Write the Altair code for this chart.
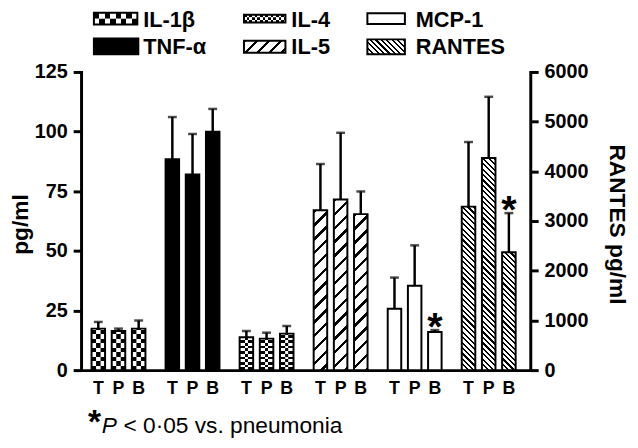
import math
import altair as alt
import pandas as pd

# ---------------- data ----------------
cytokines = ["IL-1β", "TNF-α", "IL-4", "IL-5", "MCP-1", "RANTES"]
conditions = ["T", "P", "B"]

il1b_mean = [17.4, 16.4, 17.4]
il1b_upper = [20.2, 17.4, 20.8]
tnf_mean = [88.4, 82.0, 99.9]
tnf_upper = [106.1, 99.0, 109.5]
il4_mean = [13.8, 13.2, 15.3]
il4_upper = [16.4, 15.7, 18.5]
il5_mean = [67.0, 71.5, 65.4]
il5_upper = [86.4, 99.5, 74.9]
mcp1_mean = [25.7, 35.4, 16.0]
mcp1_upper = [38.8, 52.3, 16.8]
rantes_mean = [3290, 4270, 2370]
rantes_upper = [4590, 5500, 3160]

significant = [("MCP-1", "B"), ("RANTES", "B")]

left_ticks = [0, 25, 50, 75, 100, 125]
right_ticks = [0, 1000, 2000, 3000, 4000, 5000, 6000]

legend_rows = [["IL-1β", "IL-4", "MCP-1"], ["TNF-α", "IL-5", "RANTES"]]
y_title_left = "pg/ml"
y_title_right = "RANTES pg/ml"
footnote_star = "*"
footnote_p = "P"
footnote_rest = "< 0·05 vs. pneumonia"

# ---------------- layout / style ----------------
FONT = "Liberation Sans"
W, H = 455, 302
LEFT_MAX, RIGHT_MAX = 125, 6000
G_PI, G_PO, G_ALIGN = 0.245, 0.156, 0.41
O_PI, O_PO = 0.33, 0.05
g_step = W / (len(cytokines) - G_PI + 2 * G_PO)
g_bw = g_step * (1 - G_PI)
o_step = g_bw / (len(conditions) - O_PI + 2 * O_PO)
BW = o_step * (1 - O_PI)

patterns = {
    "IL-1β": {"kind": "checker", "n": 3},
    "TNF-α": {"kind": "solid", "color": "black"},
    "IL-4": {"kind": "checker", "n": 5},
    "IL-5": {"kind": "fwd", "period": 14.0, "frac": 0.25},
    "MCP-1": {"kind": "solid", "color": "white"},
    "RANTES": {"kind": "back", "period": 5.5, "frac": 0.4},
}

# legend swatch boxes (x, x2, y, y2) relative to plot origin
legend_boxes = {
    "IL-1β": (13, 57, -60, -48),
    "IL-4": (165, 207, -58, -50),
    "MCP-1": (290, 328, -59.5, -48.5),
    "TNF-α": (13, 58, -34, -18),
    "IL-5": (165, 207, -31.5, -19.5),
    "RANTES": (290, 328, -33, -18),
}
legend_text_x = [63, 213, 339]
legend_text_y = [-52.5, -25.5]


# ---------------- gradient helpers ----------------
def stripe_stops(total, period, frac, phase=0.0):
    stops = []
    k = math.floor(-phase / period) - 1
    while True:
        a = phase + k * period
        if a >= total:
            break
        b = a + frac * period
        c = a + period
        for s, e, col in ((a, b, "black"), (b, c, "white")):
            s2, e2 = max(0.0, s), min(total, e)
            if e2 > s2:
                stops.append({"offset": round(s2 / total, 5), "color": col})
                stops.append({"offset": round(e2 / total, 5), "color": col})
        k += 1
    return stops


def grad(x1, y1, x2, y2, stops):
    return {"gradient": "linear", "x1": x1, "y1": y1, "x2": x2, "y2": y2, "stops": stops}


def rows_gradient(h, period, frac, phase):
    return grad(0, 1, 0, 0, stripe_stops(h, period, frac, phase))


def cols_gradient(w, period, frac, phase):
    return grad(0, 0, 1, 0, stripe_stops(w, period, frac, phase))


def diag_gradient(w, h, period, frac, forward):
    s = (w + h) / (w * w + h * h)
    if forward:
        return grad(0, 0, s * w, s * h, stripe_stops(w + h, period, frac))
    return grad(0, 1, s * w, 1 - s * h, stripe_stops(w + h, period, frac))


# ---------------- table ----------------
means = [il1b_mean, tnf_mean, il4_mean, il5_mean, mcp1_mean, rantes_mean]
uppers = [il1b_upper, tnf_upper, il4_upper, il5_upper, mcp1_upper, rantes_upper]
rows = []
for gi, name in enumerate(cytokines):
    for ci, c in enumerate(conditions):
        rows.append({
            "cytokine": name, "cond": c,
            "mean": means[gi][ci], "upper": uppers[gi][ci],
            "key": f"{gi}{c}", "sig": (name, c) in significant,
        })
df = pd.DataFrame(rows)
df_left = df[df.cytokine != "RANTES"].reset_index(drop=True)
df_right = df[df.cytokine == "RANTES"].reset_index(drop=True)
one = pd.DataFrame({"d": [0]})

x_axis = alt.Axis(labels=False, ticks=False, title="", grid=False,
                  domainColor="black", domainWidth=3, domainCap="square")
X = alt.X("cytokine:N", scale=alt.Scale(domain=cytokines, paddingInner=G_PI,
                                         paddingOuter=G_PO, align=G_ALIGN), axis=x_axis)
XO = alt.XOffset("cond:N", scale=alt.Scale(domain=conditions, paddingInner=O_PI, paddingOuter=O_PO))


def make_axis(orient, values, title, angle, tx):
    return alt.Axis(orient=orient, values=values, title=title, grid=False, format="d",
                    domainColor="black", domainWidth=3, domainCap="square",
                    tickColor="black", tickWidth=3, tickSize=8,
                    labelFont=FONT, labelFontSize=20, labelFontWeight="bold",
                    labelColor="black", labelPadding=6,
                    titleFont=FONT, titleFontSize=23, titleFontWeight="bold",
                    titleColor="black", titleAngle=angle, titleX=tx, titleY=154,
                    titleAlign="center", titleBaseline="middle")


def group_layers(sub, ymax, axis):
    yscale = alt.Scale(domain=[0, ymax], nice=False, zero=True)
    Ym = alt.Y("mean:Q", scale=yscale, axis=axis)
    Yu = alt.Y("upper:Q", scale=yscale, axis=axis)
    layers = []
    for _, r in sub.iterrows():
        pat = patterns[r["cytokine"]]
        h = r["mean"] / ymax * H
        base = alt.Chart(sub).transform_filter(alt.datum.key == r["key"])
        kind = pat["kind"]
        if kind == "solid":
            fill = pat["color"]
        elif kind == "checker":
            sq = BW / pat["n"]
            fill = rows_gradient(h, 2 * sq, 0.5, 0.0)
        else:
            fill = diag_gradient(BW, h, pat["period"], pat["frac"], kind == "fwd")
        layers.append(base.mark_bar(fill=fill).encode(x=X, xOffset=XO, y=Ym))
        if kind == "checker":
            n = pat["n"]
            sq = BW / n
            for j in range(1, n, 2):
                off = (j - (n - 1) / 2) * sq
                layers.append(
                    base.mark_bar(fill=rows_gradient(h, 2 * sq, 0.5, sq), width=sq, xOffset=off)
                    .encode(x=X, xOffset=XO, y=Ym))
    layers.append(alt.Chart(sub).mark_bar(fill="white", fillOpacity=0, stroke="black",
                                          strokeWidth=2, strokeJoin="miter")
                  .encode(x=X, xOffset=XO, y=Ym))
    layers.append(alt.Chart(sub).mark_rule(color="black", strokeWidth=2.5)
                  .encode(x=X, xOffset=XO, y=Ym, y2="upper:Q"))
    layers.append(alt.Chart(sub).mark_tick(color="black", orient="horizontal", size=9, thickness=2.5)
                  .encode(x=X, xOffset=XO, y=Yu))
    layers.append(alt.Chart(sub).transform_filter(alt.datum.sig)
                  .mark_text(text="*", font=FONT, fontSize=40, fontWeight="bold",
                             baseline="alphabetic", dy=10, color="black")
                  .encode(x=X, xOffset=XO, y=Yu))
    return layers


left = group_layers(df_left, LEFT_MAX, make_axis("left", left_ticks, y_title_left, 270, -61))
right = group_layers(df_right, RIGHT_MAX, make_axis("right", right_ticks, y_title_right, 90, 87))

# condition labels under each bar
left.append(alt.Chart(df).mark_text(font=FONT, fontSize=18, fontWeight="bold", baseline="middle",
                                    color="black")
            .encode(x=X, xOffset=XO, text="cond:N", y=alt.value(H + 19)))

# legend
for ri, row in enumerate(legend_rows):
    for ci, name in enumerate(row):
        x0, x1, y0, y1 = legend_boxes[name]
        w, h = x1 - x0, y1 - y0
        pat = patterns[name]
        kind = pat["kind"]
        if kind == "checker":
            n_rows = 2 if pat["n"] == 3 else 3
            rh = h / n_rows
            sq = 5.5 if pat["n"] == 3 else 2.7
            for k in range(n_rows):
                left.append(alt.Chart(one).mark_rect(fill=cols_gradient(w, 2 * sq, 0.5, k * sq))
                            .encode(x=alt.value(x0), x2=alt.value(x1),
                                    y=alt.value(y0 + k * rh), y2=alt.value(y0 + (k + 1) * rh)))
        else:
            if kind == "solid":
                fill = pat["color"]
            else:
                fill = diag_gradient(w, h, 12.0 if kind == "fwd" else pat["period"],
                                     pat["frac"], kind == "fwd")
            left.append(alt.Chart(one).mark_rect(fill=fill)
                        .encode(x=alt.value(x0), x2=alt.value(x1), y=alt.value(y0), y2=alt.value(y1)))
        left.append(alt.Chart(one).mark_rect(fill="white", fillOpacity=0, stroke="black", strokeWidth=2)
                    .encode(x=alt.value(x0), x2=alt.value(x1), y=alt.value(y0), y2=alt.value(y1)))
        left.append(alt.Chart(one).mark_text(text=name, font=FONT, fontSize=22, fontWeight="bold",
                                             align="left", baseline="middle", color="black")
                    .encode(x=alt.value(legend_text_x[ci]), y=alt.value(legend_text_y[ri])))

# footnote
left.append(alt.Chart(one).mark_text(text=footnote_star, font=FONT, fontSize=34, fontWeight="bold",
                                     align="left", baseline="alphabetic", color="black")
            .encode(x=alt.value(7), y=alt.value(366)))
left.append(alt.Chart(one).mark_text(text=footnote_p, font=FONT, fontSize=23, fontStyle="italic",
                                     align="left", baseline="alphabetic", color="black")
            .encode(x=alt.value(21), y=alt.value(366)))
left.append(alt.Chart(one).mark_text(text=footnote_rest, font=FONT, fontSize=23,
                                     align="left", baseline="alphabetic", color="black")
            .encode(x=alt.value(43), y=alt.value(366)))

chart = (
    alt.layer(alt.layer(*left), alt.layer(*right))
    .resolve_scale(y="independent")
    .properties(width=W, height=H,
                padding={"left": 74, "top": 62, "right": 101, "bottom": 68},
                autosize=alt.AutoSizeParams(type="none"))
    .configure_view(strokeWidth=0)
)

chart.save("out.html", embed_options={"renderer": "svg", "actions": False})
